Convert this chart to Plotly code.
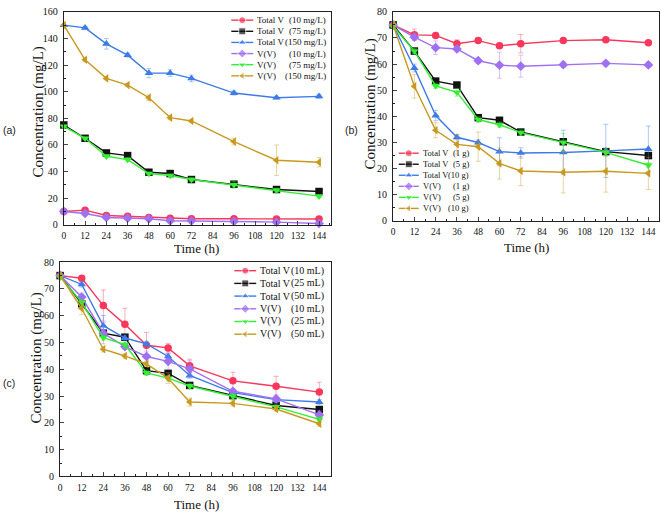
import plotly.graph_objects as go

W, H = 661, 516
time_h = [0, 12, 24, 36, 48, 60, 72, 96, 120, 144]
x_ticks = [0, 12, 24, 36, 48, 60, 72, 84, 96, 108, 120, 132, 144]

series_kind = ["Total V", "Total V", "Total V", "V(V)", "V(V)", "V(V)"]
cond_a = ["(10 mg/L)", "(75 mg/L)", "(150 mg/L)", "(10 mg/L)", "(75 mg/L)", "(150 mg/L)"]
cond_b = ["(1 g)", "(5 g)", "(10 g)", "(1 g)", "(5 g)", "(10 g)"]
cond_c = ["(10 mL)", "(25 mL)", "(50 mL)", "(10 mL)", "(25 mL)", "(50 mL)"]

# Panel (a): initial concentration
a_tv10 = [10, 11, 7, 6.5, 5.5, 5, 4.5, 4.5, 4.3, 4.3]
a_tv75 = [75, 65, 54, 52, 39.5, 38.5, 34, 30.5, 26.5, 25]
a_tv150 = [150, 148, 136, 127.5, 114, 114, 110, 99, 95.5, 96.5]
a_vv10 = [10, 8.5, 5.5, 5, 4.5, 3, 3, 2.5, 2, 1]
a_vv75 = [74, 65, 51.5, 49, 38.5, 37, 34, 30, 26, 21.5]
a_vv150 = [150, 124, 110, 105, 95.5, 80.5, 78, 62.5, 48.5, 47]
a_err = [
    [0.5, 1, 0.5, 0.5, 0.5, 0.5, 0.5, 0.5, 0.5, 0.5],
    [0.5, 1, 1, 1, 1, 1, 1, 1, 1, 0.5],
    [1, 1, 4, 1.5, 3.5, 2.5, 2.5, 1.5, 1, 1.5],
    [0.5, 0.5, 0.5, 0.5, 0.5, 0.5, 0.5, 0.5, 0.5, 0.5],
    [1, 1, 1, 1.5, 1, 1, 1.5, 2.5, 1.5, 1],
    [1, 1.5, 1, 1, 2, 1.5, 1, 2.5, 11.5, 3.5],
]

# Panel (b): adsorbent dose
b_tv1 = [75, 71.2, 71, 67.8, 69, 67, 67.8, 69, 69.3, 68.2]
b_tv5 = [75, 65, 53.5, 52, 39.5, 38.5, 34, 30.3, 26.5, 25]
b_tv10 = [75, 58.5, 40.3, 32, 30, 26.5, 26, 26.2, 26.8, 27.5]
b_vv1 = [75, 70.3, 66.3, 65.8, 61.3, 59.6, 59.2, 59.8, 60.3, 59.7]
b_vv5 = [74.5, 65, 51.7, 49.2, 38.8, 36.8, 33.8, 30, 26.2, 21.3]
b_vv10 = [75, 51.5, 34.7, 29.3, 28.4, 22, 19.1, 18.6, 19, 18.2]
b_err = [
    [0.5, 2.2, 0.8, 1.5, 0.8, 1, 3.5, 0.8, 0.8, 0.8],
    [0.5, 1, 1, 1, 1, 1, 1, 1, 1, 0.5],
    [0.5, 1.5, 2, 1, 1, 5.3, 2, 8.5, 10.2, 8.8],
    [0.5, 1, 2.6, 1, 1, 5, 4.2, 1, 1, 1],
    [0.5, 1, 1, 1.5, 1, 1, 1, 3.5, 1.5, 1],
    [0.5, 4.5, 2.9, 3.8, 5.6, 6, 5.6, 7.9, 8, 6.2],
]

# Panel (c): solution volume
c_tv10 = [75, 74, 63.8, 56.8, 49, 48, 41.3, 35.7, 33.7, 31.5]
c_tv25 = [75, 64.5, 53.5, 52, 39.5, 38.5, 34, 30.2, 26.5, 25]
c_tv50 = [75, 71.7, 56.3, 51.7, 49.5, 44.8, 37.7, 31.3, 28.7, 27.8]
c_vv10 = [75, 67, 53.5, 48.5, 44.8, 43, 40.2, 31.8, 29, 23]
c_vv25 = [74.5, 65, 51.8, 49.2, 38.7, 36.7, 33.8, 30, 26, 21.3]
c_vv50 = [75, 62.7, 47.5, 45, 42, 36.7, 27.8, 27.3, 25.2, 19.7]
c_err = [
    [0.5, 0.7, 5.8, 6, 4.8, 1.6, 2.5, 3.2, 3.7, 3.7],
    [0.5, 1, 1, 1, 1, 1, 1, 1, 1, 0.5],
    [0.5, 1, 3.8, 1, 1, 1, 1, 1, 1, 1],
    [0.5, 1.5, 4, 1, 2, 3, 3, 1, 1.5, 1.5],
    [0.5, 1, 1, 1, 1, 1, 1, 1, 1, 1],
    [0.5, 2.3, 1, 1, 1, 2, 1.5, 1, 1, 1],
]

colors = ["#F7375B", "#111111", "#3D7BE8", "#A070F2", "#33EE33", "#C8991E"]
err_colors = ["rgba(247,55,91,0.4)", "rgba(17,17,17,0.4)", "rgba(61,123,232,0.4)",
              "rgba(160,112,242,0.4)", "rgba(51,238,51,0.4)", "rgba(200,153,30,0.4)"]
symbols = ["circle", "square", "triangle-up", "diamond", "triangle-down", "triangle-left"]

SERIF = "Liberation Serif"
SANS = "Liberation Sans"

panels = [
    dict(sfx="", data=[a_tv10, a_tv75, a_tv150, a_vv10, a_vv75, a_vv150], err=a_err, cond=cond_a,
         box=(62, 330, 6, 224), xmax=150.75, ymax=160, dy=20, mdy=10,
         leg=dict(l0=230, l1=252, tx=254, rx=327, y0=14.5, step=11.4, fs=9),
         tag="(a)", tagxy=(8, 127), ytitle=(37, 108), xtitle=(195, 248)),
    dict(sfx="2", data=[b_tv1, b_tv5, b_tv10, b_vv1, b_vv5, b_vv10], err=b_err, cond=cond_b,
         box=(392.3, 659, 6, 220), xmax=150, ymax=80, dy=10, mdy=5,
         leg=dict(l0=398, l1=418, tx=420, rx=470, y0=150.7, step=11.3, fs=8.5),
         tag="(b)", tagxy=(351, 127), ytitle=(370, 100), xtitle=(526, 247)),
    dict(sfx="3", data=[c_tv10, c_tv25, c_tv50, c_vv10, c_vv25, c_vv50], err=c_err, cond=cond_c,
         box=(58.3, 330, 262.3, 481.7), xmax=150.5, ymax=80, dy=10, mdy=5,
         leg=dict(l0=233, l1=255, tx=257, rx=325, y0=271, step=13, fs=10),
         tag="(c)", tagxy=(7, 386), ytitle=(35, 360), xtitle=(195, 510)),
]

fig = go.Figure()
annotations = []
layout_axes = {}

for p in panels:
    s = p["sfx"]
    l, r, t, b = p["box"]
    for j, vals in enumerate(p["data"]):
        fig.add_trace(go.Scatter(
            x=time_h, y=vals, mode="lines+markers",
            line=dict(color=colors[j], width=1.4),
            marker=dict(symbol=symbols[j], size=7.5, color=colors[j]),
            error_y=dict(type="data", array=p["err"][j], color=err_colors[j], thickness=1, width=2.5),
            xaxis="x" + s, yaxis="y" + s, showlegend=False, cliponaxis=False,
        ))
    layout_axes["xaxis" + s] = dict(
        domain=[l / W, r / W], anchor="y" + s, range=[0, p["xmax"]],
        tickmode="array", tickvals=x_ticks, ticks="inside", ticklen=4, tickwidth=1,
        minor=dict(dtick=6, ticks="inside", ticklen=2, tickwidth=1, tickcolor="#222"),
        showline=True, linecolor="#222", linewidth=1, mirror=True, showgrid=False, zeroline=False,
        tickfont=dict(family=SERIF, size=9.5, color="#111"), ticklabelstandoff=2,
    )
    layout_axes["yaxis" + s] = dict(
        domain=[1 - b / H, 1 - t / H], anchor="x" + s, range=[0, p["ymax"]],
        dtick=p["dy"], ticks="inside", ticklen=4, tickwidth=1,
        minor=dict(dtick=p["mdy"], ticks="inside", ticklen=2, tickwidth=1, tickcolor="#222"),
        showline=True, linecolor="#222", linewidth=1, mirror=True, showgrid=False, zeroline=False,
        tickfont=dict(family=SERIF, size=10, color="#111"), ticklabelstandoff=3,
    )
    lg = p["leg"]
    for j in range(6):
        yy = lg["y0"] + j * lg["step"]
        fig.add_trace(go.Scatter(
            x=[lg["l0"], (lg["l0"] + lg["l1"]) / 2, lg["l1"]], y=[yy, yy, yy],
            mode="lines+markers", line=dict(color=colors[j], width=1.4),
            marker=dict(symbol=symbols[j], size=[0, 7, 0], color=colors[j]),
            xaxis="x4", yaxis="y4", showlegend=False, cliponaxis=False, hoverinfo="skip",
        ))
        annotations.append(dict(x=lg["tx"], y=yy, xref="x4", yref="y4", text=series_kind[j],
                                xanchor="left", yanchor="middle", showarrow=False,
                                font=dict(family=SERIF, size=lg["fs"], color="#111")))
        annotations.append(dict(x=lg["rx"], y=yy, xref="x4", yref="y4", text=p["cond"][j],
                                xanchor="right", yanchor="middle", showarrow=False,
                                font=dict(family=SERIF, size=lg["fs"], color="#111")))
    annotations.append(dict(x=p["tagxy"][0], y=p["tagxy"][1], xref="x4", yref="y4", text=p["tag"],
                            showarrow=False, font=dict(family=SANS, size=10.5, color="#222")))
    annotations.append(dict(x=p["ytitle"][0], y=p["ytitle"][1], xref="x4", yref="y4",
                            text="Concentration (mg/L)", textangle=-90, showarrow=False,
                            font=dict(family=SERIF, size=15, color="#111")))
    annotations.append(dict(x=p["xtitle"][0], y=p["xtitle"][1], xref="x4", yref="y4",
                            text="Time (h)", showarrow=False,
                            font=dict(family=SERIF, size=13, color="#111")))

layout_axes["xaxis4"] = dict(domain=[0, 1], range=[0, W], visible=False, anchor="y4", fixedrange=True)
layout_axes["yaxis4"] = dict(domain=[0, 1], range=[H, 0], visible=False, anchor="x4", fixedrange=True)

fig.update_layout(
    width=W, height=H, margin=dict(l=0, r=0, t=0, b=0),
    paper_bgcolor="white", plot_bgcolor="rgba(0,0,0,0)",
    showlegend=False, annotations=annotations, **layout_axes,
)

fig.write_html("out.html")
